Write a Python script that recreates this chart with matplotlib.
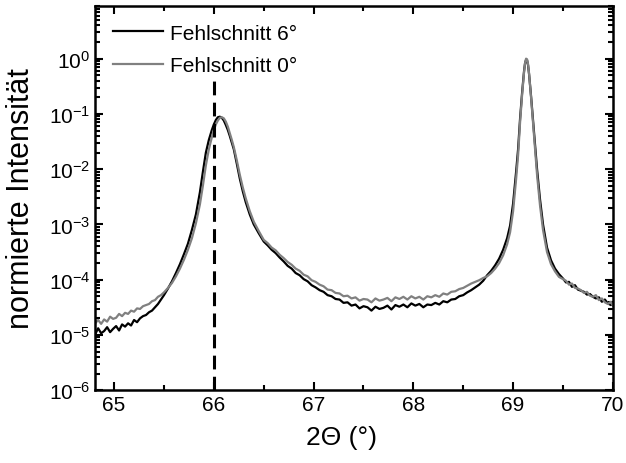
import numpy as np
import matplotlib
matplotlib.use('Agg')
import matplotlib.pyplot as plt
from matplotlib.ticker import LogLocator, MultipleLocator, NullFormatter

plt.rcParams['font.family'] = ['Liberation Sans', 'DejaVu Sans']
plt.rcParams['mathtext.fontset'] = 'custom'
plt.rcParams['mathtext.rm'] = 'Liberation Sans'

# 2Theta positions of the scan (deg)
two_theta = [
    64.81, 64.84, 64.87, 64.90, 64.93, 64.96, 64.99, 65.02, 65.05, 65.08, 65.11, 65.14,
    65.17, 65.20, 65.23, 65.26, 65.29, 65.32, 65.35, 65.38, 65.41, 65.44, 65.47, 65.50,
    65.54, 65.58, 65.62, 65.66, 65.70, 65.74, 65.78, 65.82, 65.86, 65.89, 65.92, 65.95,
    65.98, 66.00, 66.02, 66.04, 66.06, 66.08, 66.10, 66.12, 66.14, 66.16, 66.18, 66.20,
    66.23, 66.26, 66.29, 66.32, 66.36, 66.40, 66.45,
    66.50, 66.54, 66.58, 66.62, 66.66, 66.70, 66.74, 66.78, 66.82, 66.86, 66.90, 66.94,
    66.98, 67.02, 67.06, 67.10, 67.14, 67.18, 67.22, 67.26, 67.30, 67.34, 67.38, 67.42,
    67.46, 67.50, 67.54, 67.58, 67.62, 67.66, 67.70, 67.74, 67.78, 67.82, 67.86, 67.90,
    67.94, 67.98, 68.02, 68.06, 68.10, 68.14, 68.18, 68.22, 68.26, 68.30, 68.34, 68.38,
    68.42, 68.46, 68.50, 68.54, 68.58, 68.62, 68.66, 68.70,
    68.74, 68.78, 68.82, 68.86, 68.90, 68.94, 68.97, 69.00, 69.03, 69.05, 69.07, 69.09,
    69.11, 69.12, 69.13, 69.14, 69.15, 69.16, 69.18, 69.20, 69.22, 69.24, 69.27, 69.30,
    69.34, 69.38, 69.42, 69.46,
    69.50, 69.53, 69.56, 69.59, 69.62, 69.65, 69.68, 69.71, 69.74, 69.77, 69.80, 69.83,
    69.86, 69.89, 69.92, 69.95, 69.98, 70.00,
]

# log10 of normalised intensity, 6 deg miscut
log_int_6 = [
    -4.99, -4.88, -4.97, -4.93, -4.86, -4.95, -4.89, -4.84, -4.92, -4.81, -4.85, -4.79,
    -4.83, -4.73, -4.77, -4.70, -4.66, -4.64, -4.59, -4.56, -4.50, -4.44, -4.36, -4.28,
    -4.16, -4.03, -3.88, -3.72, -3.54, -3.35, -3.10, -2.82, -2.42, -2.05, -1.70, -1.47,
    -1.29, -1.19, -1.11, -1.06, -1.05, -1.07, -1.12, -1.20, -1.29, -1.40, -1.52, -1.64,
    -1.90, -2.17, -2.40, -2.60, -2.82, -3.00, -3.16,
    -3.31, -3.38, -3.46, -3.52, -3.60, -3.67, -3.75, -3.80, -3.88, -3.92, -3.99, -4.03,
    -4.10, -4.14, -4.19, -4.22, -4.28, -4.30, -4.35, -4.36, -4.42, -4.41, -4.47, -4.45,
    -4.52, -4.48, -4.50, -4.56, -4.49, -4.53, -4.51, -4.47, -4.54, -4.46, -4.49, -4.45,
    -4.50, -4.43, -4.47, -4.44, -4.50, -4.45, -4.46, -4.42, -4.45, -4.39, -4.41, -4.36,
    -4.35, -4.30, -4.28, -4.23, -4.19, -4.14, -4.09, -4.02,
    -3.92, -3.84, -3.74, -3.62, -3.46, -3.25, -3.02, -2.62, -2.05, -1.64, -1.08, -0.62,
    -0.22, -0.08, -0.02, -0.03, -0.12, -0.28, -0.68, -1.12, -1.58, -2.00, -2.55, -3.00,
    -3.42, -3.65, -3.80, -3.90,
    -3.98, -4.05, -4.04, -4.13, -4.10, -4.18, -4.20, -4.22, -4.27, -4.26, -4.31, -4.34,
    -4.32, -4.40, -4.36, -4.43, -4.46, -4.44,
]

# log10 of normalised intensity, 0 deg miscut
log_int_0 = [
    -4.79, -4.73, -4.80, -4.72, -4.76, -4.67, -4.71, -4.69, -4.62, -4.66, -4.60, -4.62,
    -4.56, -4.58, -4.52, -4.53, -4.48, -4.46, -4.44, -4.39, -4.37, -4.31, -4.28, -4.23,
    -4.15, -4.06, -3.94, -3.80, -3.64, -3.46, -3.25, -2.98, -2.64, -2.30, -1.93, -1.64,
    -1.42, -1.29, -1.19, -1.12, -1.07, -1.06, -1.08, -1.14, -1.23, -1.35, -1.47, -1.60,
    -1.84, -2.10, -2.33, -2.53, -2.76, -2.95, -3.12,
    -3.28, -3.34, -3.42, -3.47, -3.55, -3.61, -3.68, -3.73, -3.80, -3.84, -3.91, -3.94,
    -4.01, -4.04, -4.09, -4.12, -4.18, -4.19, -4.24, -4.25, -4.30, -4.29, -4.34, -4.32,
    -4.38, -4.35, -4.36, -4.41, -4.34, -4.38, -4.36, -4.33, -4.39, -4.32, -4.35, -4.31,
    -4.36, -4.30, -4.34, -4.31, -4.36, -4.30, -4.32, -4.28, -4.31, -4.25, -4.27, -4.22,
    -4.21, -4.17, -4.15, -4.11, -4.07, -4.04, -4.01, -3.97,
    -3.94, -3.88, -3.80, -3.70, -3.56, -3.36, -3.14, -2.76, -2.18, -1.75, -1.15, -0.66,
    -0.24, -0.08, 0.00, -0.01, -0.10, -0.27, -0.70, -1.17, -1.66, -2.10, -2.66, -3.10,
    -3.50, -3.72, -3.85, -3.95,
    -3.99, -4.02, -4.09, -4.07, -4.15, -4.16, -4.19, -4.24, -4.22, -4.29, -4.31, -4.28,
    -4.37, -4.34, -4.41, -4.44, -4.40, -4.47,
]

labels = ['Fehlschnitt 6°', 'Fehlschnitt 0°']
line_colors = ['black', '#808080']
ref_pos = 66.0

x = np.array(two_theta)
fig = plt.figure(figsize=(6.26, 4.64), dpi=100)
ax = fig.add_axes([0.152, 0.157, 0.827, 0.828])

ax.plot(x, 10 ** np.array(log_int_6), color=line_colors[0], lw=1.6, label=labels[0])
ax.plot(x, 10 ** np.array(log_int_0), color=line_colors[1], lw=1.6, label=labels[1])
# dashed marker at 66 deg
ax.plot([ref_pos, ref_pos], [1e-6, 0.4], color='black', lw=2.2, ls=(0, (4.5, 2.4)))

ax.set_yscale('log')
ax.set_xlim(64.81, 70.0)
ax.set_ylim(1e-6, 9)

ax.xaxis.set_major_locator(MultipleLocator(1))
ax.xaxis.set_minor_locator(MultipleLocator(0.5))
dec = [1e-6, 1e-5, 1e-4, 1e-3, 1e-2, 1e-1, 1e0]
ax.set_yticks(dec)
ax.set_yticklabels([r'$\mathregular{10^{%d}}$' % k for k in range(-6, 1)])
ax.yaxis.set_minor_locator(LogLocator(base=10, subs=np.arange(2, 10), numticks=20))
ax.yaxis.set_minor_formatter(NullFormatter())

ax.tick_params(which='both', direction='in', top=True, right=True, width=1.5, labelsize=15)
ax.tick_params(which='major', length=6)
ax.tick_params(which='minor', length=3.5)
for s in ax.spines.values():
    s.set_linewidth(1.8)

ax.set_xlabel('2Θ (°)', fontsize=19, labelpad=8, x=0.475)
ax.set_ylabel('normierte Intensität', fontsize=22, labelpad=9)
ax.legend(loc='upper left', frameon=False, fontsize=15, handlelength=2.4,
          handletextpad=0.35, labelspacing=0.65, borderaxespad=0.45)

fig.savefig('out.png', dpi=100)
